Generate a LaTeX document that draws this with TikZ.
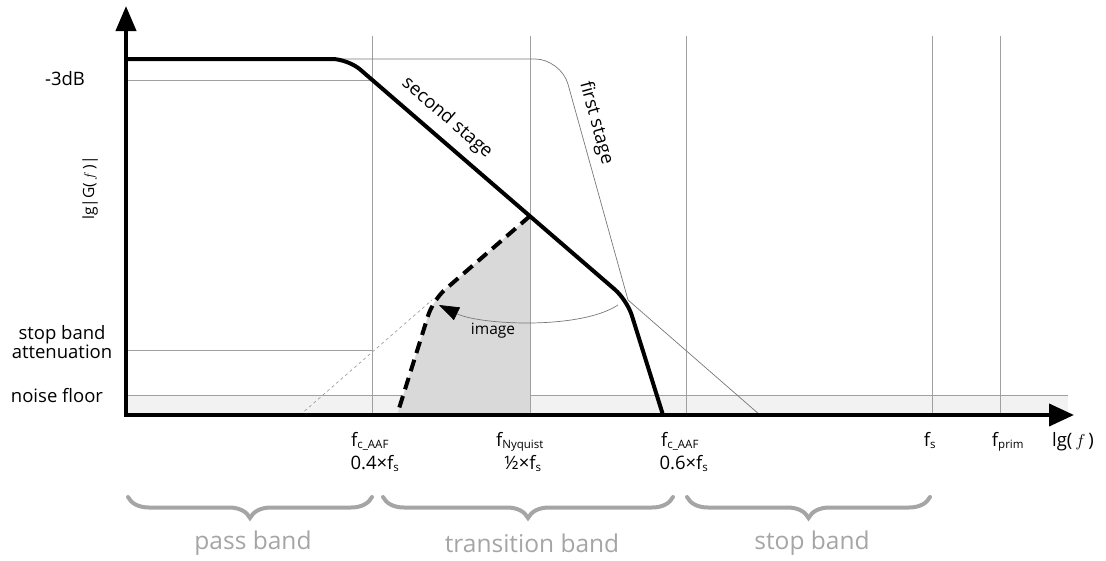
\documentclass[tikz,border=0pt]{standalone}
\usepackage{fontspec}
\setmainfont{Open Sans}
\usetikzlibrary{arrows.meta,decorations.pathreplacing}
\definecolor{gridgray}{RGB}{160,160,160}
\definecolor{thingray}{RGB}{120,120,120}
\definecolor{bandfill}{RGB}{242,242,242}
\definecolor{imgfill}{RGB}{217,217,217}
\definecolor{bracegray}{RGB}{165,165,165}
\tikzset{
  gridline/.style={draw=gridgray, line width=0.9pt},
  thinline/.style={draw=thingray, line width=0.7pt},
  stagetwo/.style={draw=black, line width=4pt, rounded corners=16pt},
  imagecurve/.style={draw=black, line width=4pt, rounded corners=16pt, dash pattern=on 12pt off 7pt},
  axisline/.style={draw=black, line width=4pt,
     {Triangle[length=25pt,width=20pt]}-{Triangle[length=25pt,width=22pt]}},
  lbl/.style={font=\fontsize{18.5}{20}\selectfont, inner sep=0pt},
  small/.style={font=\fontsize{15.5}{17}\selectfont, inner sep=0pt},
  ticklbl/.style={font=\fontsize{18.5}{20}\selectfont, inner sep=0pt, anchor=base},
  bandlbl/.style={font=\fontsize{24.5}{26}\selectfont, text=bracegray, inner sep=0pt},
  bracestyle/.style={draw=bracegray, line width=4pt, line cap=round,
     decorate, decoration={brace, mirror, amplitude=21pt}},
}
\newcommand{\sbs}[1]{\textsubscript{\fontsize{11.5}{12}\selectfont #1}}
\begin{document}
\begin{tikzpicture}[x=1pt,y=-1pt]
\useasboundingbox (0,0) rectangle (1106,560);
% noise floor band
\fill[bandfill] (126,395) rectangle (1068,415);
\draw[gridline] (126,395) -- (1068,395);
% image area
\fill[imgfill] (397,415) [rounded corners=16pt] -- (433,300) [sharp corners] -- (530,216) -- (530,415) -- cycle;
% grid lines
\foreach \gx in {372,530,686,932,1000} {\draw[gridline] (\gx,36) -- (\gx,415);}
\draw[gridline] (126,80) -- (372,80);
\draw[gridline] (126,350) -- (372,350);
% first stage
\draw[thinline, rounded corners=26pt] (126,59) -- (561,59) -- (628,300);
\draw[thinline] (628,300) -- (760,415);
% mirrored guide
\draw[thinline, dashed, draw=gridgray] (300,415) -- (432,300);
% second stage
\draw[stagetwo] (126,59) -- (348,59) -- (627,300) -- (663,415);
% image
\draw[imagecurve] (530,216) -- (433,300) -- (397,415);
% image arrow
\coordinate (imgstart) at (618,305);
\coordinate (imgend) at (439,305);
\draw[thinline, -{Triangle[length=20pt,width=14pt,color=black]}] (imgstart) .. controls (580,330) and (480,325) .. (imgend);
\node[small] (image) at (493,331) {image};
% axes
\coordinate (origin) at (126,415);
\coordinate (ytip) at (126,6);
\coordinate (xtip) at (1074,415);
\draw[axisline] (ytip) -- (origin) -- (xtip);
% y labels
\node[lbl] (m3db) at (65,79) {-3dB};
\node[small, rotate=90] (ylab) at (90,188) {lg|G($\,f\,$)|};
\node[lbl, align=center, font=\fontsize{18.5}{19}\selectfont] (sba) at (62,342) {stop band\\attenuation};
\node[lbl] (nf) at (57,396) {noise floor};
% curve labels
\node[lbl, rotate=-40.8] (second) at (447,118) {second stage};
\node[lbl, rotate=-74.6] (first) at (596,123) {first stage};
% x labels
\node[ticklbl] (fc1) at (370,446) {f\sbs{c\_AAF}};
\node[ticklbl] (fc1b) at (375,469) {0.4×f\sbs{s}};
\node[ticklbl] (fny) at (520,446) {f\sbs{Nyquist}};
\node[ticklbl] (fnyb) at (523,469) {½×f\sbs{s}};
\node[ticklbl] (fc2) at (680,446) {f\sbs{c\_AAF}};
\node[ticklbl] (fc2b) at (684,469) {0.6×f\sbs{s}};
\node[ticklbl] (fs) at (930,446) {f\sbs{s}};
\node[ticklbl] (fprim) at (1008,446) {f\sbs{prim}};
\node[ticklbl] (xlab) at (1073,446) {lg($\,f\,$)};
% braces
\draw[bracestyle] (128,497) -- (372,497);
\draw[bracestyle] (383,497) -- (673,497);
\draw[bracestyle] (687,497) -- (930,497);
\node[bandlbl] (pass) at (253,543) {pass band};
\node[bandlbl] (trans) at (532,543) {transition band};
\node[bandlbl] (stop) at (812,543) {stop band};
\end{tikzpicture}
\end{document}
